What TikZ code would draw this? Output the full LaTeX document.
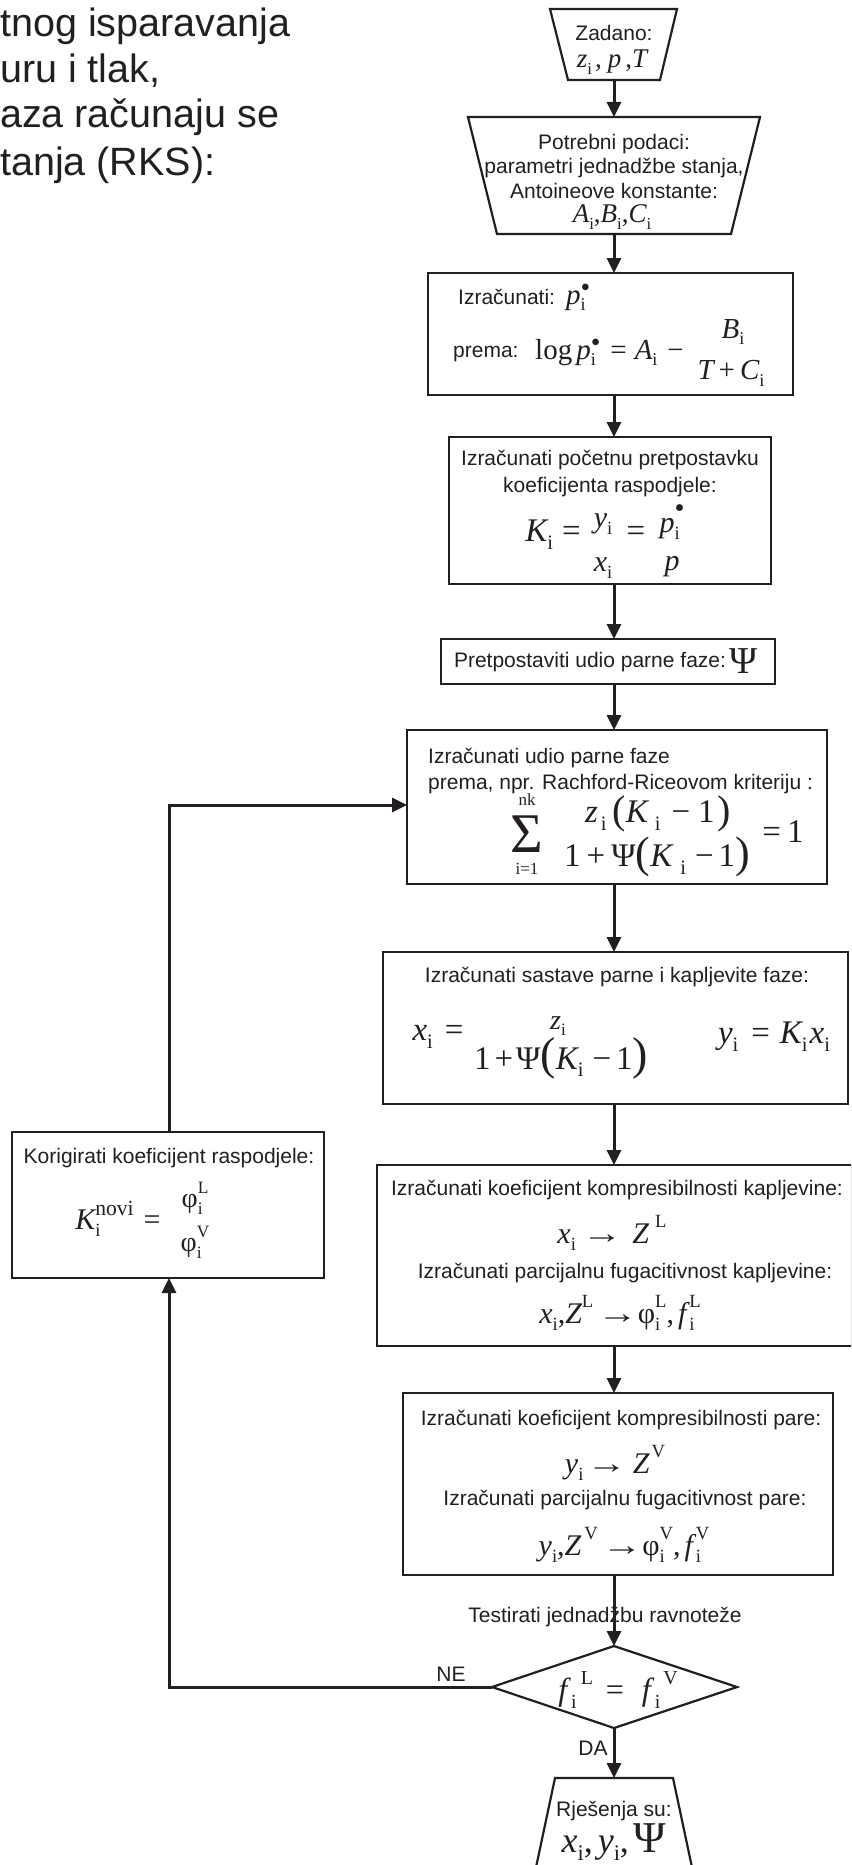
\documentclass[tikz,border=0pt]{standalone}
\usepackage{fontspec}
\setmainfont{Liberation Sans}
\newfontfamily\tms{Liberation Serif}
\usepackage{graphicx}
\usetikzlibrary{arrows.meta}
\definecolor{ink}{RGB}{35,31,32}

% italic variable, upright sub/superscripts
\newcommand\vi[1]{{\itshape #1}}
\newcommand\sbs[1]{\raisebox{-0.24em}{\scalebox{0.62}{\upshape #1}}}
\newcommand\sps[1]{\raisebox{0.52em}{\scalebox{0.62}{\upshape #1}}}
\newcommand\ssp[2]{\makebox[0pt][l]{\sbs{#1}}\sps{#2}}
\newcommand\bigp[3]{\raisebox{#2}{\fontsize{#1}{#1}\selectfont #3}}
\newcommand\too{\scalebox{1.35}[1]{→}}
% saturation pressure p_i with a bullet
\newcommand\pb[1]{\vi{p}\makebox[0pt][l]{\sbs{i}}\raisebox{#1}{\scalebox{0.95}{\textbullet}}}

\tikzset{
  shp/.style={draw=ink, line width=2.2pt},
  box/.style={shp, rectangle, inner sep=0pt, outer sep=0pt},
  arr/.style={draw=ink, line width=3pt, -{Triangle[length=15pt,width=14pt]}},
  lbl/.style={text=ink, inner sep=0pt, font=\fontsize{21}{25}\selectfont},
  big/.style={text=ink, inner sep=0pt, font=\fontsize{39.5}{46}\selectfont},
  mth/.style={text=ink, inner sep=0pt, font=\tms\fontsize{#1}{#1}\selectfont},
}

\begin{document}
\begin{tikzpicture}[x=1pt,y=-1pt]
\useasboundingbox (0,0) rectangle (851,1865);
\clip (0,0) rectangle (851,1865);
\fill[white] (0,0) rectangle (851,1865);

% heading text
\node[big, anchor=base west] (h1) at (0,37) {tnog isparavanja};
\node[big, anchor=base west] (h2) at (0,83) {uru i tlak,};
\node[big, anchor=base west] (h3) at (0,128) {aza računaju se};
\node[big, anchor=base west] (h4) at (0,175) {tanja (RKS):};

% connector axis and anchor points
\coordinate (ax) at (614,0);
\coordinate (zadB) at (614,80);
\coordinate (potT) at (614,117);
\coordinate (potB) at (614,234);
\coordinate (dT) at (614,1646);
\coordinate (dL) at (492,1687);
\coordinate (dR) at (737,1687);
\coordinate (dB) at (614,1728);
\coordinate (finT) at (614,1778);
\coordinate (fbx) at (169,805);

% input / output trapezoids and decision
\draw[shp] (550,9) -- (677,9) -- (660,80) -- (568,80) -- cycle;
\draw[shp] (468,117) -- (760,117) -- (731,234) -- (497,234) -- cycle;
\draw[shp] (dT) -- (dR) -- (dB) -- (dL) -- cycle;
\draw[shp] (555,1778) -- (673,1778) -- (700,1905) -- (528,1905) -- cycle;

% process boxes
\node[box, minimum width=365pt, minimum height=122pt] (b3) at (610.5,334) {};
\node[box, minimum width=322pt, minimum height=147pt] (b4) at (610,510.5) {};
\node[box, minimum width=334pt, minimum height=45pt] (b5) at (608,661.5) {};
\node[box, minimum width=420pt, minimum height=154pt] (b6) at (617,807) {};
\node[box, minimum width=465pt, minimum height=152pt] (b7) at (615.5,1028) {};
\node[box, minimum width=475pt, minimum height=181pt] (b8) at (614.5,1255.5) {};
\node[box, minimum width=430pt, minimum height=182pt] (b9) at (618,1484) {};
\node[box, minimum width=312pt, minimum height=146pt] (b10) at (168,1205) {};

% given data
\node[lbl] (zad1) at (614,33) {Zadano:};
\node[mth=27] (zad2) at (612,62) {\vi{z}\sbs{i}\hspace{3pt},\hspace{6pt}\vi{p}\hspace{4pt},\vi{T}};

\node[lbl] (pot1) at (614,144) {Potrebni podaci:};
\node[lbl] (pot2) at (614,168) {parametri jednadžbe stanja,};
\node[lbl] (pot3) at (614,191) {Antoineove konstante:};
\node[mth=27] (pot4) at (612,217) {\vi{A}\sbs{i},\vi{B}\sbs{i},\vi{C}\sbs{i}};

% Antoine equation
\node[lbl, anchor=base west] (b3a) at (458,304) {Izračunati:\hspace{11pt}{\tms\fontsize{29}{29}\selectfont\pb{0.27em}}};
\node[lbl, anchor=base west] (b3b) at (453,357) {prema:};
\node[mth=29, anchor=base west] (b3c) at (535,359) {log\hspace{4pt}\pb{0.27em}\hspace{10pt}=\hspace{8pt}\vi{A}\sbs{i}\hspace{10pt}−};
\node[mth=29] (b3d) at (733,332) {\vi{B}\sbs{i}};
\node[mth=29] (b3e) at (731,373) {\vi{T}\hspace{5pt}+\hspace{5pt}\vi{C}\sbs{i}};

% initial distribution coefficient
\node[lbl] (b4a) at (610,460) {Izračunati početnu pretpostavku};
\node[lbl] (b4b) at (610,487) {koeficijenta raspodjele:};
\node[mth=33] (b4c) at (553,535) {\vi{K}\sbs{i}\hspace{9pt}=};
\node[mth=30] (b4d) at (603,524) {\vi{y}\sbs{i}};
\node[mth=30] (b4e) at (603,568) {\vi{x}\sbs{i}};
\node[mth=33] (b4f) at (636,534) {=};
\node[mth=30] (b4g) at (672,522) {\pb{0.5em}};
\node[mth=30] (b4h) at (672,567) {\vi{p}};

% vapour fraction guess
\node[lbl] (b5a) at (590,662) {Pretpostaviti udio parne faze:};
\node[mth=38] (b5b) at (744,661) {Ψ};

% Rachford-Rice
\node[lbl, anchor=west] (b6a) at (428,758) {Izračunati udio parne faze};
\node[lbl, anchor=west] (b6b) at (428,784) {prema, npr. Rachford-Riceovom kriteriju :};
\node[mth=56] (sg) at (527,834) {Σ};
\node[mth=17] (sgt) at (527,800) {nk};
\node[mth=17] (sgb) at (527,869) {i=1};
\node[mth=33] (rrn) at (658,814) {\vi{z}\hspace{3pt}\sbs{i}\hspace{6pt}\bigp{40}{-1pt}{(}\vi{K}\hspace{7pt}\sbs{i}\hspace{11pt}−\hspace{8pt}1\hspace{3pt}\bigp{40}{-1pt}{)}};
\node[mth=33] (rrd) at (657,857) {1\hspace{6pt}+\hspace{6pt}Ψ\bigp{44}{-1pt}{(}\vi{K}\hspace{8pt}\sbs{i}\hspace{9pt}−\hspace{5pt}1\bigp{44}{-1pt}{)}};
\node[mth=33] (rre) at (783,832) {=\hspace{6pt}1};

% phase compositions
\node[lbl] (b7a) at (617,977) {Izračunati sastave parne i kapljevite faze:};
\node[mth=33] (b7b) at (438,1037) {\vi{x}\sbs{i}\hspace{12pt}=};
\node[mth=28] (b7c) at (558,1026) {\vi{z}\sbs{i}};
\node[mth=33] (b7d) at (561,1058) {1\hspace{4pt}+\hspace{3pt}Ψ\bigp{46}{0pt}{(}\vi{K}\sbs{i}\hspace{9pt}−\hspace{5pt}1\bigp{46}{0pt}{)}};
\node[mth=33] (b7e) at (774,1037) {\vi{y}\sbs{i}\hspace{13pt}=\hspace{10pt}\vi{K}\sbs{i}\hspace{2pt}\vi{x}\sbs{i}};

% liquid phase
\node[lbl] (b8a) at (617,1190) {Izračunati koeficijent kompresibilnosti kapljevine:};
\node[mth=30] (b8b) at (612,1233) {\vi{x}\sbs{i}\hspace{6pt}\too\hspace{10pt}\vi{Z}\hspace{6pt}\sps{L}};
\node[lbl] (b8c) at (625,1273) {Izračunati parcijalnu fugacitivnost kapljevine:};
\node[mth=30] (b8d) at (620,1313) {\vi{x}\sbs{i},\vi{Z}\sps{L}\hspace{4pt}\too φ\ssp{i}{L},\hspace{4pt}\vi{f}\hspace{3pt}\ssp{i}{L}};

% vapour phase
\node[lbl] (b9a) at (621,1420) {Izračunati koeficijent kompresibilnosti pare:};
\node[mth=30] (b9b) at (615,1463) {\vi{y}\sbs{i}\hspace{3pt}\too\hspace{6pt}\vi{Z}\hspace{2pt}\sps{V}};
\node[lbl] (b9c) at (625,1500) {Izračunati parcijalnu fugacitivnost pare:};
\node[mth=30] (b9d) at (624,1545) {\vi{y}\sbs{i},\vi{Z}\hspace{3pt}\sps{V}\hspace{4pt}\too φ\ssp{i}{V},\hspace{4pt}\vi{f}\hspace{3pt}\ssp{i}{V}};

% equilibrium test
\node[lbl] (tst) at (605,1617) {Testirati jednadžbu ravnoteže};
\node[mth=32] (dtx) at (618,1690) {\vi{f}\hspace{4pt}\sbs{i}\hspace{4pt}\sps{L}\hspace{13pt}=\hspace{18pt}\vi{f}\hspace{4pt}\sbs{i}\hspace{3pt}\sps{V}};
\node[lbl] (ne) at (451,1674) {NE};
\node[lbl] (da) at (593,1748) {DA};

% correction of K
\node[lbl] (b10a) at (169,1158) {Korigirati koeficijent raspodjele:};
\node[mth=30] (b10b) at (118,1219) {\vi{K}\makebox[0pt][l]{\sbs{i}}\raisebox{0.45em}{\scalebox{0.72}{novi}}\hspace{10pt}=};
\node[mth=28] (b10c) at (195,1198) {φ\ssp{i}{L}};
\node[mth=28] (b10d) at (195,1242) {φ\ssp{i}{V}};

% result
\node[lbl] (fin1) at (614,1811) {Rješenja su:};
\node[mth=36] (fin2) at (614,1842) {\vi{x}\sbs{i},\hspace{5pt}\vi{y}\sbs{i},\hspace{5pt}{\fontsize{44}{44}\selectfont Ψ}};

% main flow
\draw[arr] (zadB) -- (potT);
\draw[arr] (potB) -- (b3.north -| ax);
\draw[arr] (b3.south -| ax) -- (b4.north -| ax);
\draw[arr] (b4.south -| ax) -- (b5.north -| ax);
\draw[arr] (b5.south -| ax) -- (b6.north -| ax);
\draw[arr] (b6.south -| ax) -- (b7.north -| ax);
\draw[arr] (b7.south -| ax) -- (b8.north -| ax);
\draw[arr] (b8.south -| ax) -- (b9.north -| ax);
\draw[arr] (b9.south -| ax) -- (dT);
\draw[arr] (dB) -- (finT);

% iteration loop
\draw[arr] (dL) -- (dL -| fbx) -- (b10.south -| fbx);
\draw[arr] (b10.north -| fbx) -- (fbx) -- (fbx -| b6.west);
\end{tikzpicture}
\end{document}
